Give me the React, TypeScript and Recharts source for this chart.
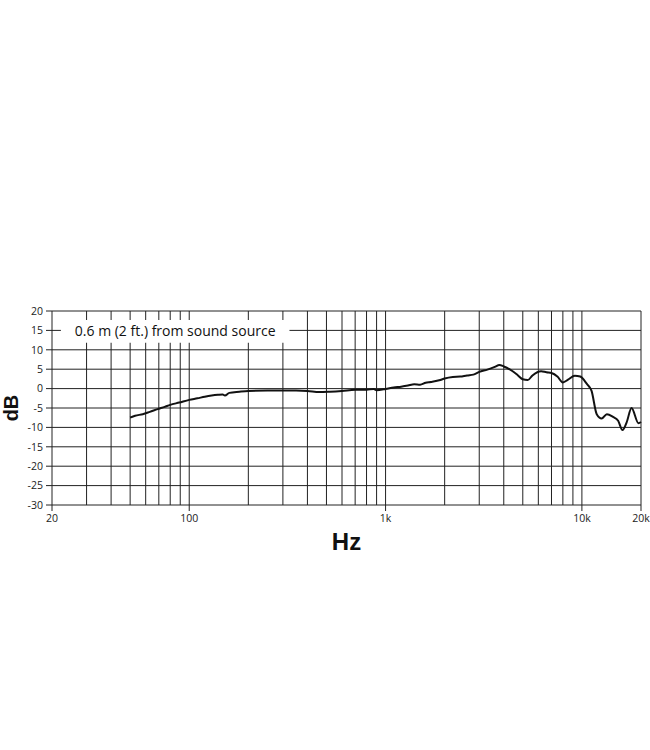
import { CartesianGrid, Label, Line, LineChart, ReferenceArea, XAxis, YAxis } from "recharts";

const freqs = [
  50, 53, 58, 63, 69, 75, 80, 89, 100, 110, 120, 130, 140, 148, 152, 160, 180, 200, 250, 300,
  350, 400, 460, 520, 600, 700, 800, 870, 900, 1000, 1100, 1200, 1300, 1400, 1500, 1600, 1700,
  1900, 2000, 2200, 2400, 2600, 2800, 3000, 3300, 3600, 3800, 4000, 4400, 4700, 5000, 5300,
  5600, 6200, 6600, 7000, 7500, 8000, 8500, 9200, 9800, 10600, 11200, 11900, 12600, 13400,
  14400, 15300, 16100, 16900, 17900, 19400, 20000,
];
const levels = [
  -7.5, -7.0, -6.6, -6.0, -5.3, -4.7, -4.2, -3.6, -2.9, -2.5, -2.1, -1.8, -1.6, -1.5, -1.8, -1.1,
  -0.8, -0.6, -0.5, -0.5, -0.5, -0.6, -0.9, -0.8, -0.6, -0.3, -0.3, -0.1, -0.4, -0.1, 0.3, 0.5,
  0.8, 1.1, 1.0, 1.5, 1.7, 2.2, 2.6, 3.0, 3.1, 3.4, 3.6, 4.3, 4.9, 5.6, 6.1, 5.7, 4.6, 3.5, 2.4,
  2.2, 3.4, 4.5, 4.2, 4.0, 3.1, 1.6, 2.3, 3.3, 3.1, 1.2, -0.6, -6.6, -7.7, -6.6, -7.3, -8.3,
  -10.7, -8.7, -5.0, -8.9, -8.6,
];

const gridFreqs = [
  20, 30, 40, 50, 60, 70, 80, 90, 100, 200, 300, 400, 500, 600, 700, 800, 900, 1000, 2000, 3000,
  4000, 5000, 6000, 7000, 8000, 9000, 10000, 20000,
];
const freqLabels: Record<number, string> = { 20: "20", 100: "100", 1000: "1k", 10000: "10k", 20000: "20k" };
const dbTicks = [-30, -25, -20, -15, -10, -5, 0, 5, 10, 15, 20];
const note = "0.6 m (2 ft.) from sound source";

const data = freqs.map((f, i) => ({ f, db: levels[i] }));

const FreqTick = (props: any) => {
  const { x, y, payload } = props;
  const text = freqLabels[payload.value];
  if (!text) return null;
  return (
    <g>
      <line x1={x} x2={x} y1={y} y2={y + 6} stroke="#222" />
      <text x={x} y={y + 17} textAnchor="middle" fontSize={10.5} fill="#222" fontFamily="Open Sans">
        {text}
      </text>
    </g>
  );
};

const DbLabel = (props: any) => {
  const { viewBox } = props;
  const cx = viewBox.x + 18;
  const cy = viewBox.y + viewBox.height / 2;
  return (
    <text
      x={cx}
      y={cy}
      transform={`rotate(-90 ${cx} ${cy})`}
      textAnchor="middle"
      fontSize={20}
      fontWeight="bold"
      fontFamily="Liberation Sans"
      fill="#111"
    >
      dB
    </text>
  );
};

const NoteLabel = (props: any) => {
  const { viewBox } = props;
  return (
    <text
      x={viewBox.x + viewBox.width / 2}
      y={viewBox.y + viewBox.height / 2 + 5}
      textAnchor="middle"
      fontSize={14}
      fontFamily="Open Sans"
      fill="#111"
    >
      {note}
    </text>
  );
};

export default function App() {
  return (
    <div style={{ position: "absolute", left: 0, top: 0, width: 650, height: 750, background: "#fff" }}>
      <LineChart width={650} height={750} data={data} margin={{ top: 311, right: 9, bottom: 215, left: 0 }}>
        <CartesianGrid stroke="#222" strokeWidth={1} />
        <XAxis
          dataKey="f"
          type="number"
          scale="log"
          domain={[20, 20000]}
          ticks={gridFreqs}
          interval={0}
          height={30}
          axisLine={false}
          tickLine={false}
          tickSize={0}
          tickMargin={0}
          tick={<FreqTick />}
        >
          <Label
            value="Hz"
            position="bottom"
            offset={-2}
            fontSize={24}
            fontWeight="bold"
            fontFamily="Liberation Sans"
            fill="#111"
          />
        </XAxis>
        <YAxis
          type="number"
          domain={[-30, 20]}
          ticks={dbTicks}
          interval={0}
          width={52}
          axisLine={false}
          tickSize={6}
          tickMargin={3}
          tickLine={{ stroke: "#222" }}
          tick={{ fontSize: 10.5, fill: "#222", fontFamily: "Open Sans" }}
        >
          <Label content={<DbLabel />} />
        </YAxis>
        <ReferenceArea
          x1={22.2}
          x2={324}
          y1={11.8}
          y2={17.7}
          fill="#fff"
          fillOpacity={1}
          stroke="none"
          label={<NoteLabel />}
        />
        <Line
          type="monotone"
          dataKey="db"
          stroke="#111"
          strokeWidth={2}
          dot={false}
          isAnimationActive={false}
        />
      </LineChart>
    </div>
  );
}
